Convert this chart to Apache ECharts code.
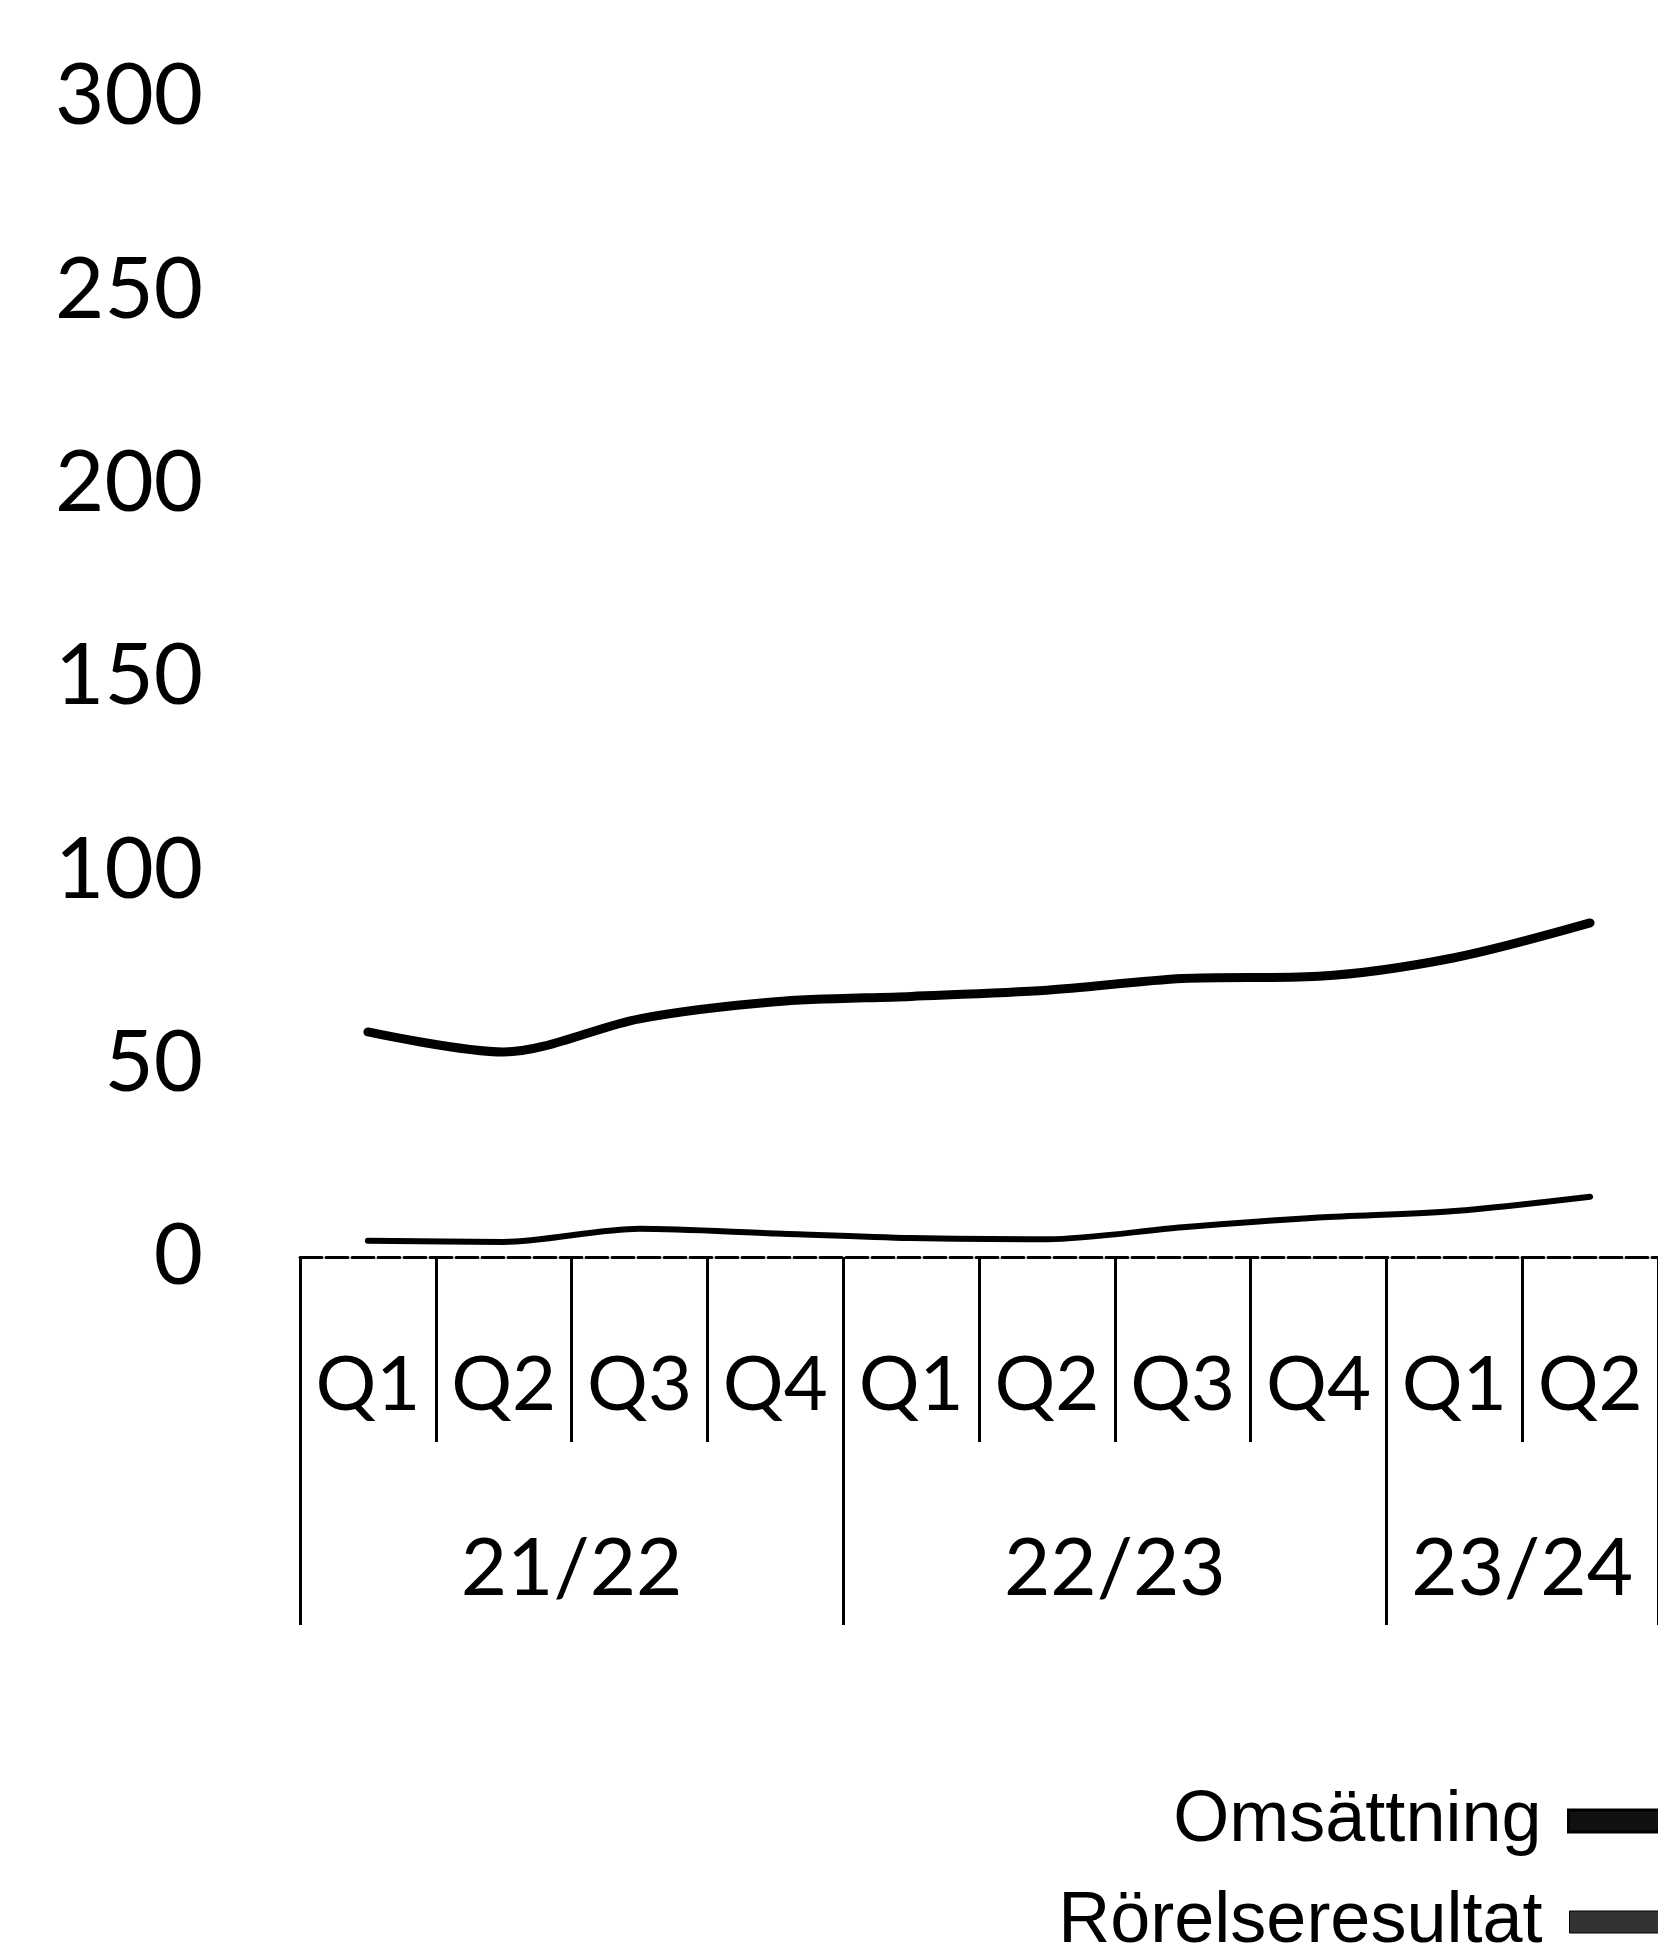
<!DOCTYPE html>
<html>
<head>
<meta charset="utf-8">
<script src="https://cdn.jsdelivr.net/npm/echarts@6/dist/echarts.min.js"></script>
<style>
html,body{margin:0;padding:0;background:#fff;}
#chart{width:1658px;height:1944px;}
</style>
</head>
<body>
<div id="chart"></div>
<script>
var quarters = ['Q1','Q2','Q3','Q4','Q1','Q2','Q3','Q4','Q1','Q2'];
var years = ['21/22','22/23','23/24'];
var yearSpans = [4,4,2];
var omsattning = [58.2, 53.0, 61.6, 66.0, 67.4, 69.0, 72.0, 72.6, 77.4, 86.4];
var rorelseresultat = [4.2, 3.9, 7.3, 6.1, 4.9, 4.6, 7.7, 10.2, 11.9, 15.6];
var yTicks = [0, 50, 100, 150, 200, 250, 300];

var yearBounds = [0], yearCenters = [];
(function(){
  var acc = 0;
  for (var i = 0; i < yearSpans.length; i++) {
    yearCenters.push(acc + yearSpans[i] / 2);
    acc += yearSpans[i];
    yearBounds.push(acc);
  }
})();

function legendBlock(name, top, itemStyle) {
  return {
    orient: 'horizontal',
    align: 'right',
    right: -17,
    top: top,
    itemWidth: 100,
    itemHeight: 22,
    icon: 'rect',
    selectedMode: false,
    textStyle: {fontFamily: 'Liberation Sans', fontSize: 72, color: '#000', lineHeight: 72, padding: [0, 22, 0, 0]},
    data: [{name: name, itemStyle: itemStyle}]
  };
}

var chart = echarts.init(document.getElementById('chart'), null, {renderer: 'canvas'});
chart.setOption({
  backgroundColor: '#ffffff',
  animation: false,
  grid: {left: 300, right: -28, top: 97, bottom: 687, containLabel: false},
  legend: [
    legendBlock('Omsättning', 1780, {color: '#111', borderColor: '#000', borderWidth: 3}),
    legendBlock('Rörelseresultat', 1881, {color: '#333', borderColor: '#000', borderWidth: 1})
  ],
  xAxis: [
    {
      type: 'category',
      data: quarters,
      boundaryGap: true,
      axisLine: {show: true, lineStyle: {color: '#000', width: 3, type: [22, 4]}},
      axisTick: {show: true, interval: 0, length: 185, lineStyle: {color: '#000', width: 3}},
      axisLabel: {interval: 0, margin: 128, verticalAlign: 'middle', fontFamily: 'Lato', fontSize: 76, color: '#000'},
      splitLine: {show: false}
    },
    {
      type: 'value',
      min: 0,
      max: quarters.length,
      position: 'bottom',
      axisLine: {show: false},
      splitLine: {show: false},
      axisTick: {show: true, customValues: yearBounds, length: 368, lineStyle: {color: '#000', width: 3}},
      axisLabel: {
        customValues: yearCenters,
        margin: 312,
        verticalAlign: 'middle',
        fontFamily: 'Lato', fontSize: 80, color: '#000',
        formatter: function (v) {
          var idx = yearCenters.indexOf(v);
          return idx >= 0 ? years[idx] : '';
        }
      }
    }
  ],
  yAxis: {
    type: 'value',
    min: yTicks[0],
    max: yTicks[yTicks.length - 1],
    interval: 50,
    axisLine: {show: false},
    axisTick: {show: false},
    splitLine: {show: false},
    axisLabel: {margin: 97, fontFamily: 'Lato', fontSize: 85, color: '#000'}
  },
  series: [
    {
      name: 'Omsättning', type: 'line', xAxisIndex: 0, data: omsattning,
      smooth: 0.3, showSymbol: false, symbol: 'none',
      lineStyle: {color: '#000', width: 9, cap: 'round'},
      itemStyle: {color: '#111'}
    },
    {
      name: 'Rörelseresultat', type: 'line', xAxisIndex: 0, data: rorelseresultat,
      smooth: 0.3, showSymbol: false, symbol: 'none',
      lineStyle: {color: '#000', width: 6, cap: 'round'},
      itemStyle: {color: '#333'}
    }
  ]
});
</script>
</body>
</html>
